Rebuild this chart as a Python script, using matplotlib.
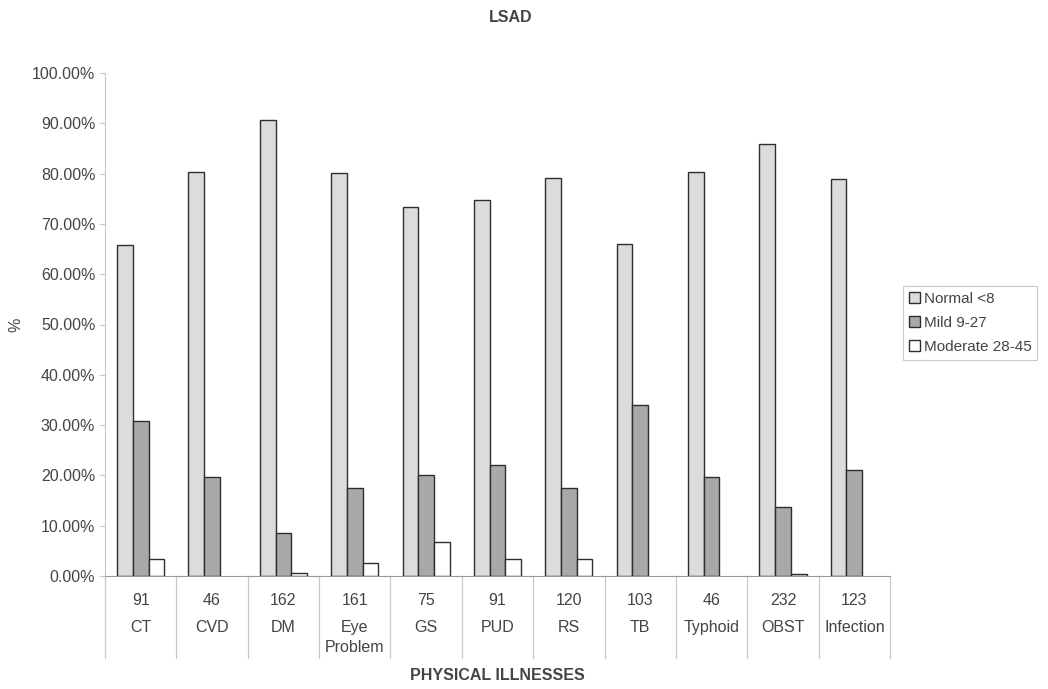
import matplotlib
matplotlib.use("Agg")
import matplotlib.pyplot as plt
import matplotlib.transforms as mtransforms
from matplotlib.ticker import PercentFormatter
import numpy as np

plt.rcParams["font.family"] = ["Liberation Sans", "DejaVu Sans"]

# Illness groups, sample sizes and LSAD score distribution (percent)
illnesses = ["CT", "CVD", "DM", "Eye\nProblem", "GS", "PUD", "RS", "TB", "Typhoid", "OBST", "Infection"]
counts = [91, 46, 162, 161, 75, 91, 120, 103, 46, 232, 123]
normal = [65.9, 80.4, 90.7, 80.1, 73.3, 74.7, 79.2, 66.0, 80.4, 85.8, 78.9]
mild = [30.8, 19.6, 8.6, 17.4, 20.0, 22.0, 17.5, 34.0, 19.6, 13.8, 21.1]
moderate = [3.3, 0.0, 0.6, 2.5, 6.7, 3.3, 3.3, 0.0, 0.0, 0.4, 0.0]

series = [
    ("Normal <8", normal, "#dcdcdc"),
    ("Mild 9-27", mild, "#a9a9a9"),
    ("Moderate 28-45", moderate, "#ffffff"),
]

text_color = "#444444"
line_color = "#c8c8c8"
fs = 11.5

fig = plt.figure(figsize=(10.48, 6.89), dpi=100)
ax = fig.add_axes([105 / 1048, 113 / 689, 785 / 1048, 503 / 689])

x = np.arange(len(illnesses))
width = 0.22
for i, (label, values, color) in enumerate(series):
    # empty groups get no outline so nothing shows on the baseline
    edges = ["#2e2e2e" if v > 0 else "none" for v in values]
    ax.bar(x + (i - 1) * width, values, width, color=color,
           edgecolor=edges, linewidth=1.0, label=label)

ax.set_xlim(-0.5, len(illnesses) - 0.5)
ax.set_ylim(0, 100)
ax.set_yticks(np.arange(0, 101, 10))
ax.yaxis.set_major_formatter(PercentFormatter(decimals=2))
ax.tick_params(axis="y", labelsize=fs, colors=text_color, length=4, color=line_color, pad=3)
ax.set_xticks([])

for side in ["top", "right"]:
    ax.spines[side].set_visible(False)
ax.spines["left"].set_color(line_color)
ax.spines["bottom"].set_color("#9a9a9a")

fig.text(16 / 1048, 1 - 325 / 689, "%", rotation=90, ha="center", va="center",
         fontsize=fs, color=text_color)

# Data table under the axis: counts and illness names with cell dividers
trans = mtransforms.blended_transform_factory(ax.transData, ax.transAxes)
for b in np.arange(len(illnesses) + 1) - 0.5:
    ax.plot([b, b], [0, -0.163], transform=trans, color=line_color,
            linewidth=0.9, clip_on=False)
for xi, n, name in zip(x, counts, illnesses):
    ax.text(xi, -0.048, str(n), transform=trans, ha="center", va="center",
            fontsize=fs, color=text_color)
    ax.text(xi, -0.087, name, transform=trans, ha="center", va="top",
            fontsize=fs, color=text_color, linespacing=1.4)

ax.text(0.5, -0.198, "PHYSICAL ILLNESSES", transform=ax.transAxes, ha="center",
        va="center", fontsize=fs, fontweight="bold", color=text_color)
fig.text(0.487, 0.974, "LSAD", ha="center", va="center", fontsize=fs,
         fontweight="bold", color=text_color)

leg = fig.legend(loc="upper left", bbox_to_anchor=(903 / 1048, 1 - 286 / 689),
                 fontsize=11, frameon=True, fancybox=False, handlelength=0.7,
                 handleheight=0.7, handletextpad=0.25, borderpad=0.4,
                 labelspacing=0.65, borderaxespad=0)
leg.get_frame().set_edgecolor("#bdbdbd")
leg.get_frame().set_linewidth(0.8)
for t in leg.get_texts():
    t.set_color(text_color)

fig.savefig("out.png", dpi=100)
